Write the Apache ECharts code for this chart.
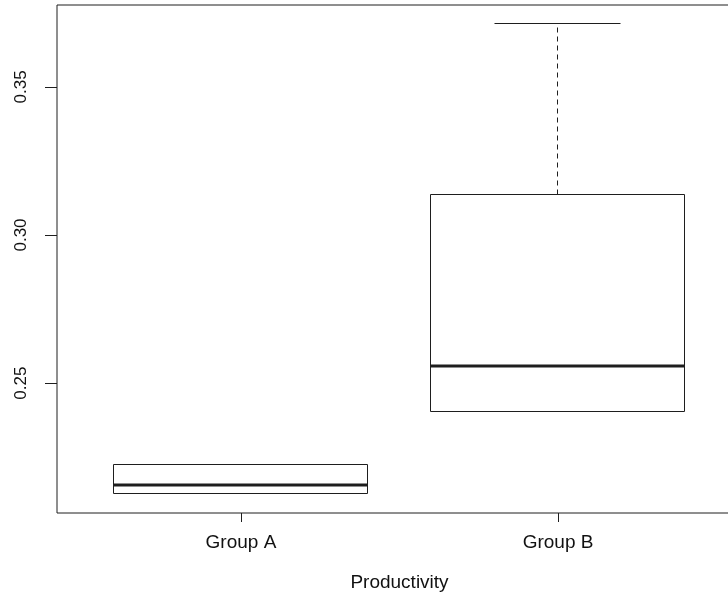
<!DOCTYPE html>
<html>
<head>
<meta charset="utf-8">
<script src="https://cdn.jsdelivr.net/npm/echarts@6/dist/echarts.min.js"></script>
<style>
  html, body { margin: 0; padding: 0; background: #fff; }
  #chart { width: 728px; height: 594px; }
</style>
</head>
<body>
<div id="chart"></div>
<script>
// Group labels and five-number summaries for each box
const categories = ['Group A', 'Group B'];
const lowerWhisker = [0.2125, 0.2402];
const lowerHinge = [0.2125, 0.2402];
const medians = [0.2152, 0.2554];
const upperHinge = [0.2223, 0.3135];
const upperWhisker = [0.2223, 0.3713];
const yTickValues = [0.25, 0.30, 0.35];
const axisTitle = 'Productivity';

const positions = categories.map((c, i) => i + 1);
const boxData = categories.map((c, i) => [
  positions[i], lowerWhisker[i], lowerHinge[i], medians[i], upperHinge[i], upperWhisker[i]
]);

// Axis ranges padded by 4% on each side, like base-graphics defaults
const lo = Math.min(...lowerWhisker), hi = Math.max(...upperWhisker);
const yPad = (hi - lo) * 0.04;
const xLo = 0.5, xHi = categories.length + 0.5;
const xPad = (xHi - xLo) * 0.04;

const INK = '#1e1e1e';
const FONT = '"Liberation Sans", Arial, sans-serif';
const BOX_HALF = 0.4;
const CAP_HALF = 0.2;

const crisp = v => Math.round(v) - 0.5;

function renderBox(params, api) {
  const x = api.value(0);
  const yOf = v => api.coord([x, v])[1];
  const xOf = d => api.coord([d, 0])[0];
  const bl = crisp(xOf(x - BOX_HALF)), br = crisp(xOf(x + BOX_HALF));
  const cl = crisp(xOf(x - CAP_HALF)), cr = crisp(xOf(x + CAP_HALF));
  const cx = crisp(xOf(x));
  const yLow = crisp(yOf(api.value(1)));
  const yQ1 = crisp(yOf(api.value(2)));
  const yMed = Math.round(yOf(api.value(3))) - 1;
  const yQ3 = crisp(yOf(api.value(4)));
  const yHigh = crisp(yOf(api.value(5)));
  const solid = { stroke: INK, lineWidth: 1, fill: null };
  const dashed = { stroke: INK, lineWidth: 1, lineDash: [5, 4] };
  const children = [];
  // whiskers
  if (yHigh < yQ3) {
    children.push({ type: 'line', shape: { x1: cx, y1: yQ3, x2: cx, y2: yHigh }, style: dashed });
  }
  if (yLow > yQ1) {
    children.push({ type: 'line', shape: { x1: cx, y1: yQ1, x2: cx, y2: yLow }, style: dashed });
  }
  children.push({ type: 'line', shape: { x1: cl, y1: yHigh, x2: cr, y2: yHigh }, style: solid });
  children.push({ type: 'line', shape: { x1: cl, y1: yLow, x2: cr, y2: yLow }, style: solid });
  // box
  children.push({ type: 'rect', shape: { x: bl, y: yQ3, width: br - bl, height: yQ1 - yQ3 }, style: solid });
  // median
  children.push({ type: 'line', shape: { x1: bl, y1: yMed, x2: br, y2: yMed }, style: { stroke: INK, lineWidth: 3 } });
  return { type: 'group', children };
}

const chart = echarts.init(document.getElementById('chart'), null, { renderer: 'canvas' });
chart.setOption({
  backgroundColor: '#fff',
  animation: false,
  grid: {
    left: 57, top: 5, width: 685, height: 508,
    outerBoundsMode: 'none',
    show: true, borderColor: INK, borderWidth: 1, backgroundColor: 'transparent'
  },
  xAxis: {
    type: 'value',
    min: xLo - xPad, max: xHi + xPad,
    axisLine: { show: false },
    splitLine: { show: false },
    axisTick: { show: true, length: 9, customValues: positions, lineStyle: { color: INK } },
    axisLabel: {
      customValues: positions,
      formatter: v => categories[Math.round(v) - 1],
      margin: 20, color: '#111', fontFamily: FONT, fontSize: 19
    },
    name: axisTitle,
    nameLocation: 'middle',
    nameGap: 60,
    nameTextStyle: { color: '#111', fontFamily: FONT, fontSize: 19 }
  },
  yAxis: {
    type: 'value',
    min: lo - yPad, max: hi + yPad,
    axisLine: { show: false },
    splitLine: { show: false },
    axisTick: { show: true, length: 12, customValues: yTickValues, lineStyle: { color: INK } },
    axisLabel: {
      customValues: yTickValues,
      formatter: v => v.toFixed(2),
      rotate: 90, margin: 27, color: '#111', fontFamily: FONT, fontSize: 17
    }
  },
  series: [{
    type: 'custom',
    renderItem: renderBox,
    data: boxData,
    encode: { x: 0, y: [1, 2, 3, 4, 5] },
    clip: false
  }]
});
</script>
</body>
</html>
